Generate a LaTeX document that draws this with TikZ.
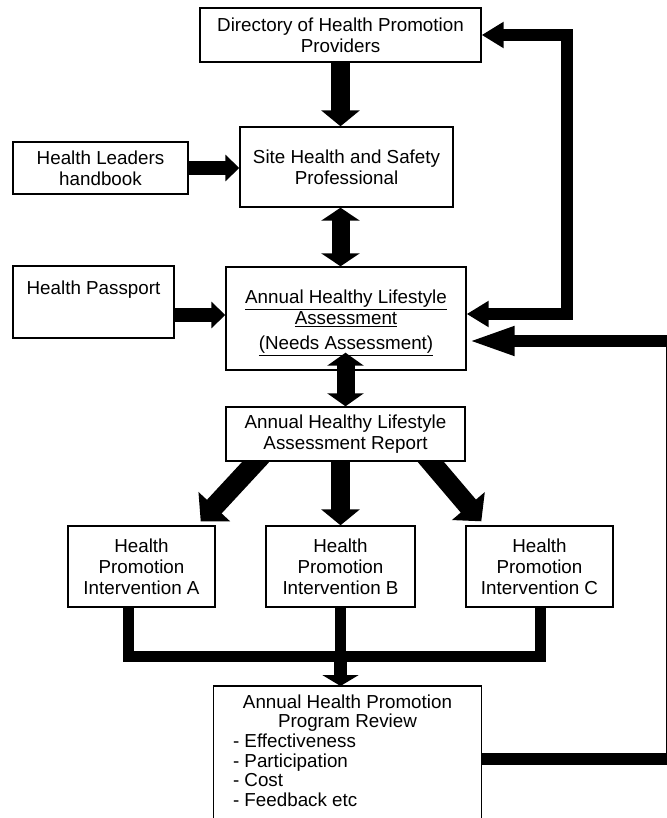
\documentclass[tikz,border=0pt]{standalone}
\usepackage{fontspec}
\setmainfont{Liberation Sans}
\usetikzlibrary{arrows.meta,calc,backgrounds}
\newcommand\diagfont{\fontsize{18.8pt}{21pt}\selectfont}
\begin{document}
\begin{tikzpicture}[x=1pt,y=-1pt,
  box/.style={draw=black,line width=1.4pt,fill=white,inner sep=0pt,align=center,font=\diagfont},
  vfat/.style={line width=19pt,-{Triangle[length=16pt,width=38pt]}},
  vdbl/.style={line width=18pt,{Triangle[length=13pt,width=38pt]}-{Triangle[length=13pt,width=38pt]}},
  hfat/.style={line width=14pt,-{Triangle[length=14pt,width=26pt]}},
  dfat/.style={line width=20pt,-{Triangle[length=20pt,width=42pt]}},
  loopln/.style={line width=12pt,line join=miter},
  barln/.style={line width=11pt,line join=miter}]
\useasboundingbox (0,0) rectangle (666,818);
\begin{scope}[on background layer]
\fill[white] (0,0) rectangle (666,818);
\end{scope}

\node[box,minimum width=281pt,minimum height=54pt] (dir) at (340.5,35) {Directory of Health Promotion\\Providers};
\node[box,minimum width=213pt,minimum height=80pt] (site) at (346.5,167) {Site Health and Safety\\Professional};
\node[box,minimum width=175pt,minimum height=52pt] (lead) at (100.5,168) {Health Leaders\\handbook};
\node[box] (pass) at (93.5,302) {\begin{minipage}[t][72pt][t]{161pt}\centering\vspace*{15pt}Health Passport\end{minipage}};
\node[box,minimum width=240pt,minimum height=103pt] (ann) at (346,318.5) {\rule{0pt}{22pt}\underline{Annual Healthy Lifestyle}\\\underline{Assessment}\\[4pt]\underline{(Needs Assessment)}};
\node[box,minimum width=239pt,minimum height=54pt] (rep) at (345.5,434) {Annual Healthy Lifestyle\\Assessment Report};
\node[box,minimum width=147pt,minimum height=81pt] (ia) at (141.5,566.5) {Health\\Promotion\\Intervention A};
\node[box,minimum width=149pt,minimum height=81pt] (ib) at (340.5,566.5) {Health\\Promotion\\Intervention B};
\node[box,minimum width=147pt,minimum height=81pt] (ic) at (539.5,566.5) {Health\\Promotion\\Intervention C};
\node[box,draw=none,anchor=north] (rev) at (347.5,686) {\begin{minipage}[t][132pt][t]{267pt}\fontsize{18.8pt}{19.6pt}\selectfont\centering\vspace*{8pt}Annual Health Promotion\\Program Review\\
\makebox[267pt][l]{\hspace{19pt}- Effectiveness}\\
\makebox[267pt][l]{\hspace{19pt}- Participation}\\
\makebox[267pt][l]{\hspace{19pt}- Cost}\\
\makebox[267pt][l]{\hspace{19pt}- Feedback etc}\end{minipage}};
\draw[line width=1.4pt] (rev.south west) -- (rev.north west) -- (rev.north east) -- (rev.south east);

\coordinate (r1) at (567,314);
\coordinate (r2) at (672,759);
\coordinate (r2t) at (672,341);
\coordinate (bl) at (128,656);
\coordinate (br) at (540,656);

\begin{scope}[on background layer]
\draw[vfat] (dir.south) -- (dir.south |- site.north);
\draw[hfat] (lead.east) -- (lead.east -| site.west);
\draw[vdbl] (site.south -| dir.south) -- (ann.north -| dir.south);
\draw[hfat] ([yshift=-13pt]pass.east) -- ([yshift=-13pt]pass.east -| ann.west);
\draw[loopln,{Triangle[length=22pt,width=25pt]}-{Triangle[length=22pt,width=25pt]}] (dir.east) -| (r1) -- (r1 -| ann.east);
\draw[loopln,-{Triangle[length=48pt,width=26pt]}] (rev.east |- r2) -- (r2) -- (r2t) -- (r2t -| ann.east);
\draw[vfat] (rep.south -| ib.north) -- (ib.north);
\draw[dfat] ($(rep.south)+(-84,-6)$) -- ($(ia.north east)+(-15,-4)$);
\draw[dfat] ($(rep.south)+(80,-6)$) -- ($(ic.north west)+(16,-4)$);
\draw[barln] (ia.south -| bl) -- (bl) -- (br) -- (ic.south -| br);
\draw[barln] (ib.south) -- (ib.south |- bl);
\draw[line width=13pt,-{Triangle[length=11pt,width=36pt]}] (ib.south |- bl) -- (ib.south |- rev.north);
\end{scope}
\draw[line width=18pt,{Triangle[length=13pt,width=36pt]}-{Triangle[length=13pt,width=36pt]}] ([yshift=18pt]ann.south -| rep.north) -- (rep.north);
\end{tikzpicture}
\end{document}
